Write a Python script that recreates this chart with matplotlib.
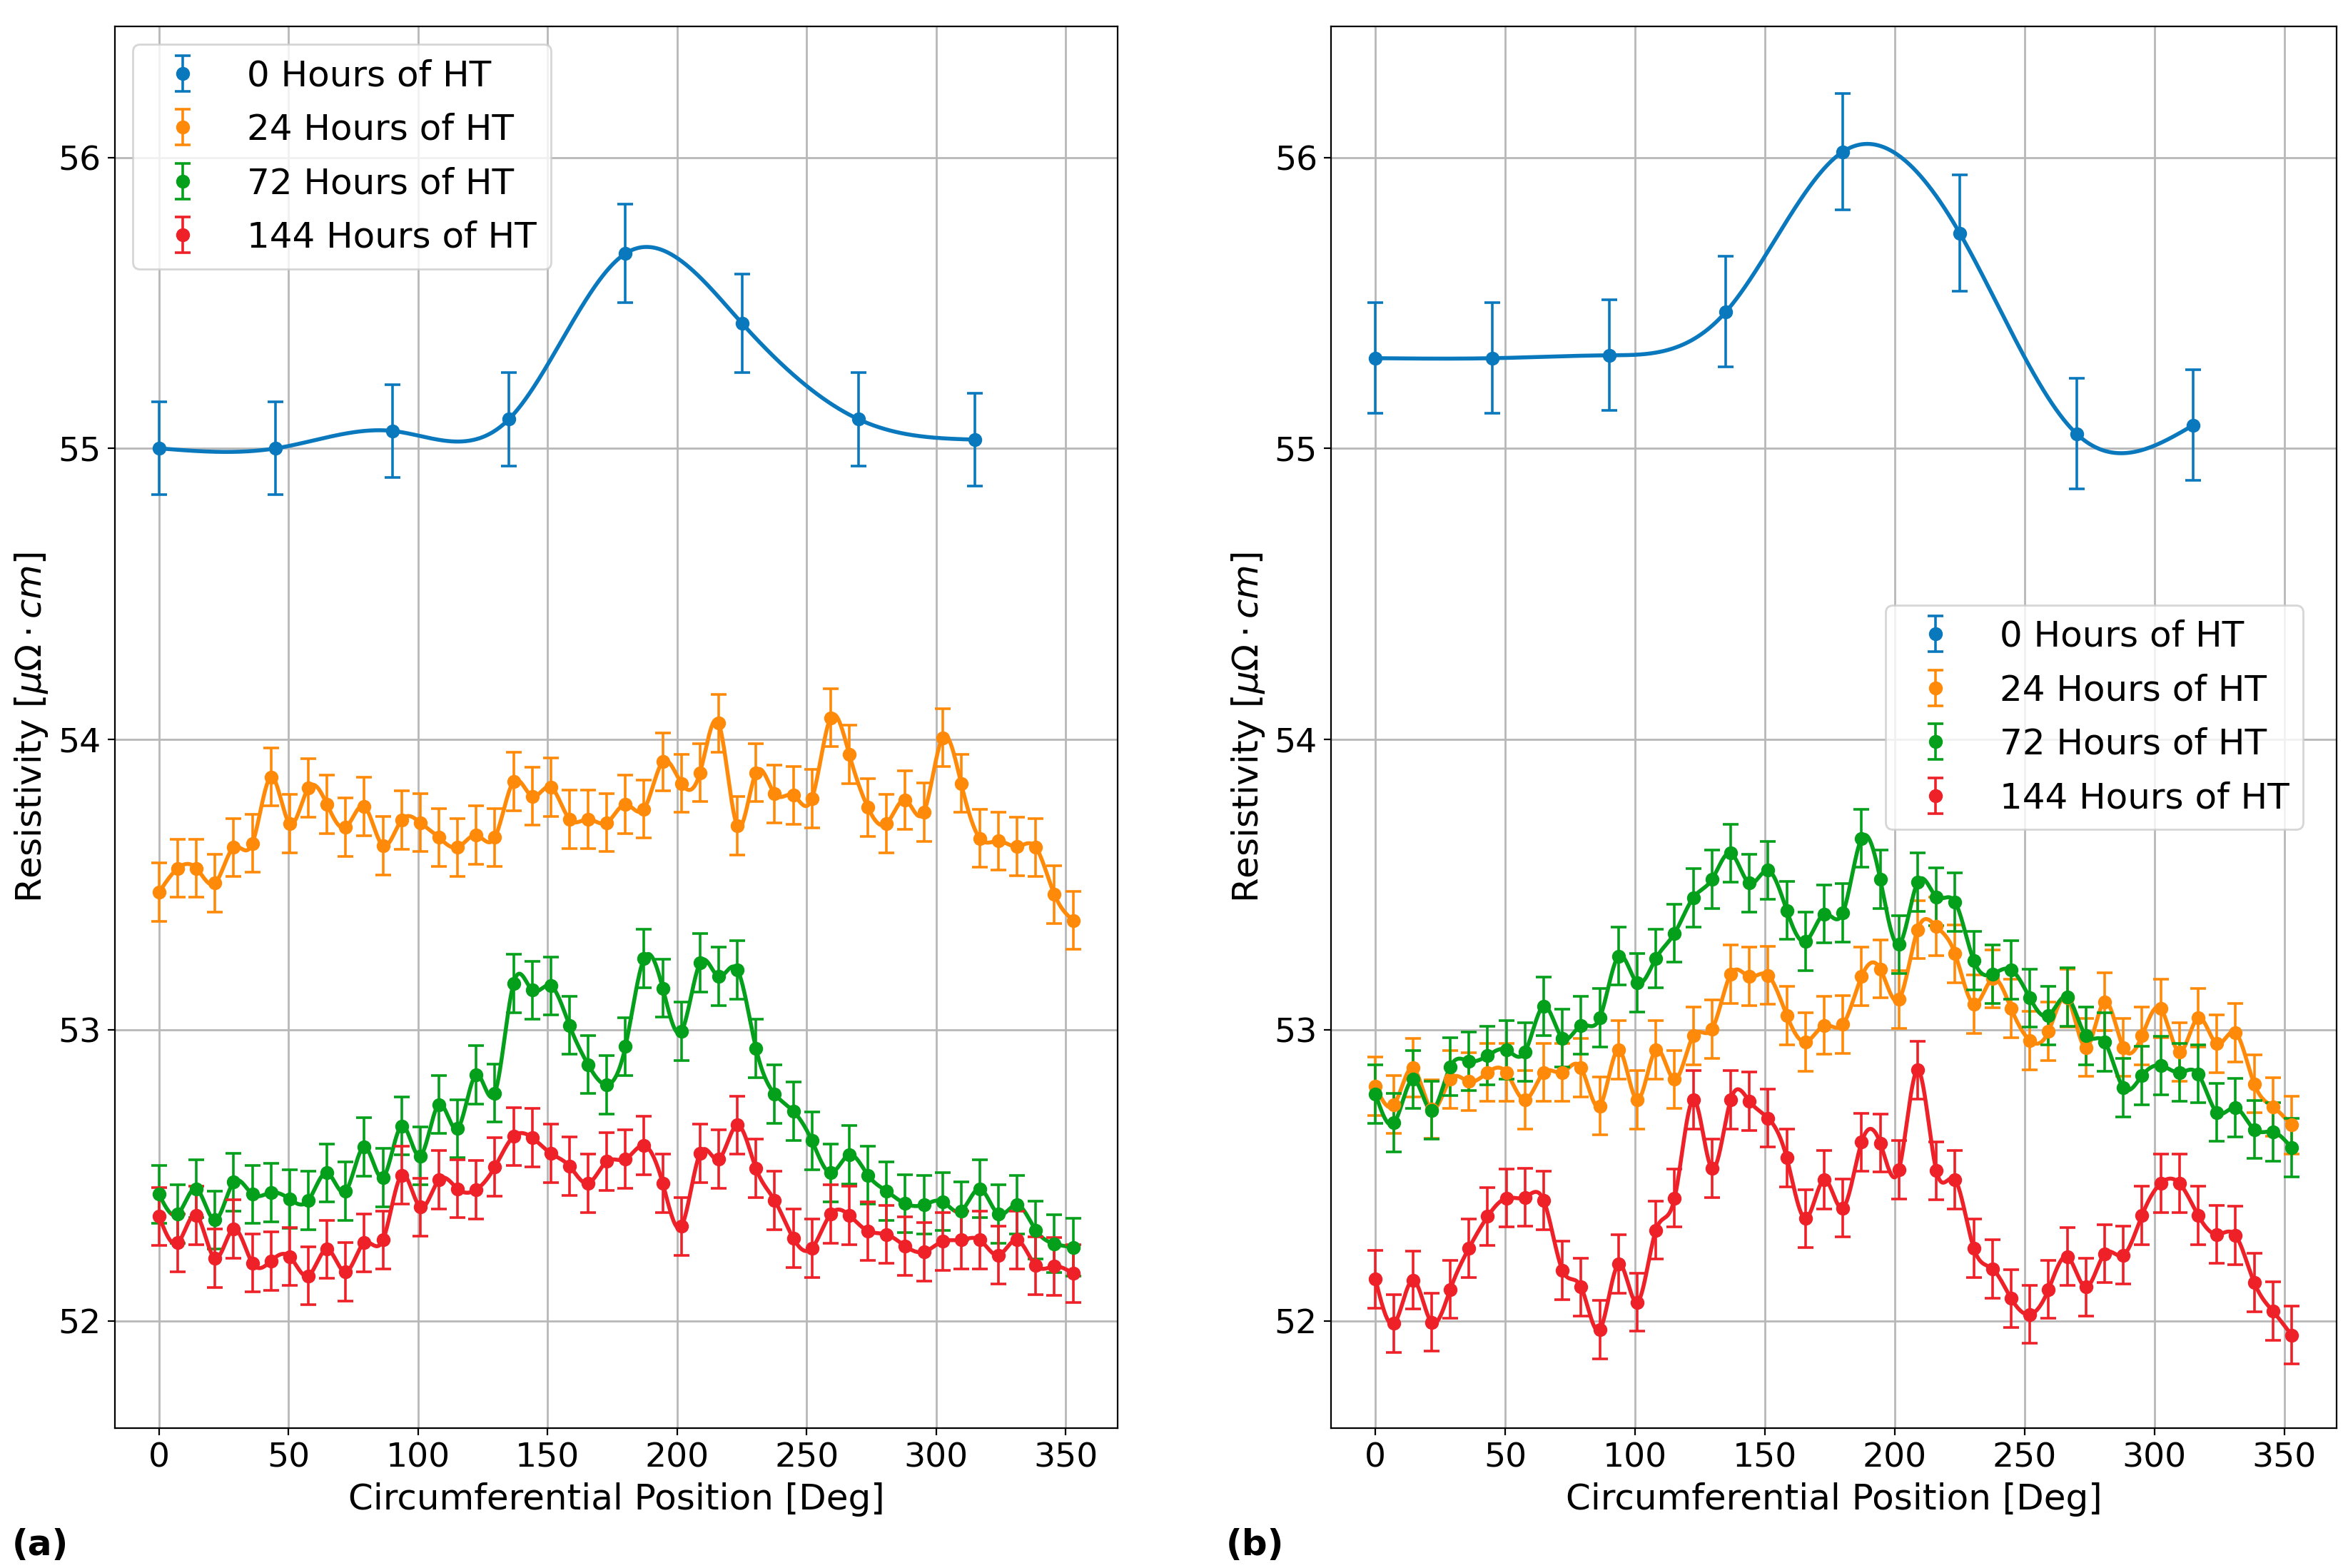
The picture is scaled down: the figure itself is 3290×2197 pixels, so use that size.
import numpy as np
import matplotlib
matplotlib.use("Agg")
import matplotlib.pyplot as plt

# ---- data ----
pos_coarse = [0, 45, 90, 135, 180, 225, 270, 315]
pos_fine = [round(7.2 * i, 1) for i in range(50)]

a_0h = [55.0, 55.0, 55.06, 55.1, 55.67, 55.43, 55.1, 55.03]
a_0h_err = [0.16, 0.16, 0.16, 0.16, 0.17, 0.17, 0.16, 0.16]

b_0h = [55.31, 55.31, 55.32, 55.47, 56.02, 55.74, 55.05, 55.08]
b_0h_err = [0.19, 0.19, 0.19, 0.19, 0.2, 0.2, 0.19, 0.19]

# pixel readings from the zoomed picture (zoom px, 637 px per unit)
a_24h_px = [530, 478, 478, 510, 432, 423, 278, 380, 302, 338,
            388, 342, 428, 372, 378, 410, 432, 405, 410, 288,
            320, 300, 370, 370, 378, 338, 348, 245, 292, 268,
            160, 385, 268, 315, 318, 325, 148, 228, 345, 380,
            328, 355, 192, 292, 412, 418, 430, 432, 535, 592]
a_72h_px = [1192, 1235, 1180, 1248, 1165, 1192, 1188, 1202, 1205, 1145,
            1185, 1088, 1155, 1042, 1108, 995, 1048, 930, 970, 730,
            745, 735, 822, 908, 952, 868, 675, 740, 835, 685,
            715, 700, 872, 972, 1010, 1075, 1145, 1105, 1150, 1185,
            1212, 1215, 1208, 1228, 1180, 1235, 1215, 1270, 1300, 1308]
a_144h_px = [1240, 1298, 1238, 1332, 1268, 1342, 1338, 1328, 1370, 1312,
             1362, 1298, 1292, 1150, 1220, 1160, 1180, 1182, 1132, 1065,
             1068, 1102, 1130, 1168, 1120, 1115, 1085, 1168, 1262, 1102,
             1115, 1040, 1135, 1205, 1288, 1310, 1235, 1238, 1272, 1280,
             1305, 1318, 1295, 1292, 1292, 1325, 1292, 1348, 1350, 1365]
b_24h_px = [955, 995, 915, 1005, 940, 945, 925, 925, 985, 925,
            925, 915, 998, 875, 985, 875, 940, 845, 830, 710,
            715, 712, 800, 858, 822, 820, 715, 698, 765, 612,
            605, 665, 775, 720, 785, 855, 835, 762, 870, 770,
            870, 845, 785, 880, 805, 862, 838, 950, 1000, 1040]
b_72h_px = [972, 1035, 940, 1008, 912, 900, 888, 875, 880, 780,
            850, 822, 805, 670, 728, 675, 620, 542, 502, 445,
            510, 482, 570, 638, 578, 575, 412, 502, 645, 508,
            540, 552, 680, 710, 700, 762, 800, 760, 845, 858,
            958, 932, 910, 925, 928, 1012, 1002, 1050, 1055, 1090]
b_144h_px = [1378, 1475, 1380, 1472, 1400, 1310, 1240, 1200, 1198, 1205,
             1358, 1395, 1488, 1345, 1428, 1270, 1200, 985, 1135, 985,
             988, 1025, 1112, 1245, 1160, 1222, 1078, 1080, 1138, 920,
             1140, 1160, 1310, 1355, 1420, 1455, 1400, 1328, 1395, 1322,
             1325, 1238, 1168, 1168, 1238, 1280, 1282, 1385, 1448, 1500]


def px_to_val(px):
    return [round(54 - (p - 195) / 637, 3) for p in px]


fine_err = 0.1
labels = ["0 Hours of HT", "24 Hours of HT", "72 Hours of HT", "144 Hours of HT"]
colors = ["#0a78bd", "#ff8a0a", "#04a01c", "#ee2028"]


def spline(x, y, n=400):
    # natural cubic spline
    x = np.asarray(x, float)
    y = np.asarray(y, float)
    m = len(x)
    h = np.diff(x)
    A = np.zeros((m, m))
    r = np.zeros(m)
    A[0, 0] = A[-1, -1] = 1
    for i in range(1, m - 1):
        A[i, i - 1] = h[i - 1]
        A[i, i] = 2 * (h[i - 1] + h[i])
        A[i, i + 1] = h[i]
        r[i] = 3 * ((y[i + 1] - y[i]) / h[i] - (y[i] - y[i - 1]) / h[i - 1])
    c = np.linalg.solve(A, r)
    xs = np.linspace(x[0], x[-1], n)
    idx = np.clip(np.searchsorted(x, xs) - 1, 0, m - 2)
    d = xs - x[idx]
    hi = h[idx]
    b = (y[idx + 1] - y[idx]) / hi - hi * (2 * c[idx] + c[idx + 1]) / 3
    dd = (c[idx + 1] - c[idx]) / (3 * hi)
    ys = y[idx] + b * d + c[idx] * d ** 2 + dd * d ** 3
    return xs, ys


def draw(ax, series, legend_kw):
    for (x, y, e), lab, col in zip(series, labels, colors):
        xs, ys = spline(x, y, 1500)
        ax.plot(xs, ys, color=col, lw=2.0)
        ax.errorbar(x, y, yerr=e, fmt="o", color=col, ms=6, capsize=4,
                    elinewidth=1.3, capthick=1.3, label=lab)
    ax.set_xlim(-17, 370)
    ax.set_ylim(51.63, 56.45)
    ax.set_xticks(range(0, 351, 50))
    ax.set_yticks([52, 53, 54, 55, 56])
    ax.grid(True, color="#b8b8b8", lw=1)
    ax.tick_params(labelsize=17)
    ax.set_xlabel("Circumferential Position [Deg]", fontsize=18)
    ax.set_ylabel(r"Resistivity [$\mu\Omega \cdot cm$]", fontsize=18)
    ax.legend(fontsize=18, labelspacing=0.55, **legend_kw)


fig = plt.figure(figsize=(16.45, 10.985), dpi=200)
ax1 = fig.add_axes([0.049, 0.089, 0.427, 0.894])
ax2 = fig.add_axes([0.567, 0.089, 0.428, 0.894])

series_a = [
    (pos_coarse, a_0h, a_0h_err),
    (pos_fine, px_to_val(a_24h_px), fine_err),
    (pos_fine, px_to_val(a_72h_px), fine_err),
    (pos_fine, px_to_val(a_144h_px), fine_err),
]
series_b = [
    (pos_coarse, b_0h, b_0h_err),
    (pos_fine, px_to_val(b_24h_px), fine_err),
    (pos_fine, px_to_val(b_72h_px), fine_err),
    (pos_fine, px_to_val(b_144h_px), fine_err),
]
draw(ax1, series_a, dict(loc="upper left"))
draw(ax2, series_b, dict(loc="upper right", bbox_to_anchor=(0.985, 0.6)))

fig.text(0.005, 0.008, "(a)", fontsize=18, fontweight="bold")
fig.text(0.522, 0.008, "(b)", fontsize=18, fontweight="bold")

fig.savefig("out.png", dpi=200)
